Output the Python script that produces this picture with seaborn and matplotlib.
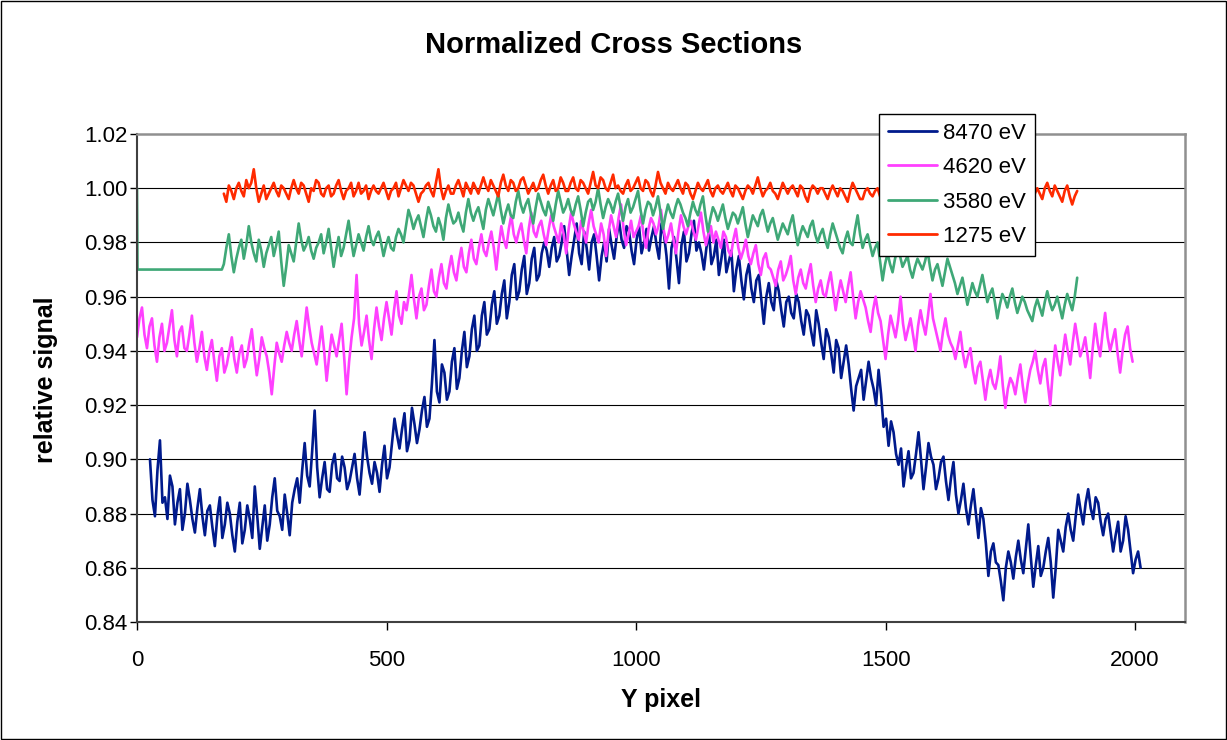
import numpy as np
import pandas as pd
import matplotlib
matplotlib.use("Agg")
import matplotlib.pyplot as plt
import seaborn as sns
from matplotlib.patches import Rectangle

# ---------------- data ----------------
series_names = ["8470 eV", "4620 eV", "3580 eV", "1275 eV"]
series_colors = ["#001a8c", "#ff40ff", "#3fa877", "#ff2a00"]

x_step = 5             # pixel spacing of the read-off samples
x_start_8470 = 26
x_start_4620 = 0
x_start_3580 = 174
x_start_1275 = 174

sig_8470 = [
    0.900, 0.885, 0.879, 0.896, 0.907, 0.884, 0.886, 0.878, 0.894, 0.890, 0.876, 0.884, 0.889, 0.874, 0.880, 0.891, 0.885, 0.878, 0.873, 0.882,
    0.889, 0.879, 0.872, 0.881, 0.883, 0.875, 0.868, 0.879, 0.886, 0.871, 0.876, 0.884, 0.880, 0.872, 0.866, 0.877, 0.884, 0.869, 0.874, 0.883,
    0.878, 0.871, 0.890, 0.879, 0.867, 0.875, 0.883, 0.870, 0.876, 0.886, 0.893, 0.881, 0.879, 0.874, 0.887, 0.880, 0.872, 0.884, 0.889, 0.893,
    0.884, 0.896, 0.906, 0.894, 0.890, 0.903, 0.918, 0.897, 0.886, 0.893, 0.899, 0.889, 0.888, 0.898, 0.902, 0.893, 0.892, 0.901, 0.897, 0.889,
    0.892, 0.897, 0.902, 0.893, 0.887, 0.898, 0.910, 0.901, 0.895, 0.891, 0.899, 0.895, 0.888, 0.898, 0.905, 0.893, 0.897, 0.906, 0.915, 0.909,
    0.904, 0.911, 0.917, 0.903, 0.907, 0.919, 0.913, 0.906, 0.911, 0.918, 0.923, 0.912, 0.915, 0.928, 0.944, 0.925, 0.921, 0.935, 0.932, 0.922,
    0.925, 0.936, 0.941, 0.926, 0.930, 0.940, 0.947, 0.934, 0.938, 0.948, 0.953, 0.940, 0.942, 0.953, 0.958, 0.946, 0.948, 0.957, 0.962, 0.950,
    0.953, 0.961, 0.966, 0.952, 0.958, 0.968, 0.972, 0.959, 0.962, 0.970, 0.975, 0.961, 0.965, 0.974, 0.978, 0.966, 0.968, 0.976, 0.980, 0.977,
    0.971, 0.978, 0.982, 0.973, 0.975, 0.980, 0.986, 0.977, 0.968, 0.975, 0.981, 0.987, 0.976, 0.972, 0.984, 0.978, 0.970, 0.980, 0.983, 0.975,
    0.966, 0.975, 0.980, 0.973, 0.985, 0.979, 0.974, 0.982, 0.988, 0.981, 0.978, 0.986, 0.984, 0.977, 0.972, 0.981, 0.986, 0.976, 0.980, 0.985,
    0.977, 0.982, 0.986, 0.979, 0.974, 0.987, 0.983, 0.975, 0.963, 0.978, 0.982, 0.974, 0.965, 0.979, 0.984, 0.973, 0.976, 0.983, 0.988, 0.977,
    0.980, 0.976, 0.970, 0.978, 0.984, 0.972, 0.975, 0.981, 0.968, 0.974, 0.981, 0.969, 0.973, 0.977, 0.962, 0.970, 0.975, 0.966, 0.959, 0.968,
    0.972, 0.963, 0.958, 0.966, 0.968, 0.959, 0.950, 0.960, 0.965, 0.958, 0.955, 0.966, 0.962, 0.955, 0.949, 0.958, 0.960, 0.954, 0.952, 0.961,
    0.958, 0.951, 0.946, 0.955, 0.953, 0.947, 0.942, 0.955, 0.950, 0.943, 0.937, 0.948, 0.945, 0.939, 0.932, 0.944, 0.941, 0.930, 0.936, 0.942,
    0.935, 0.926, 0.918, 0.927, 0.930, 0.933, 0.922, 0.929, 0.936, 0.930, 0.926, 0.920, 0.933, 0.924, 0.912, 0.915, 0.905, 0.914, 0.910, 0.902,
    0.898, 0.904, 0.890, 0.897, 0.903, 0.893, 0.895, 0.902, 0.910, 0.900, 0.889, 0.897, 0.906, 0.901, 0.898, 0.889, 0.893, 0.899, 0.901, 0.892,
    0.885, 0.893, 0.899, 0.887, 0.880, 0.885, 0.891, 0.882, 0.876, 0.883, 0.889, 0.880, 0.871, 0.882, 0.878, 0.869, 0.857, 0.866, 0.869, 0.862,
    0.861, 0.855, 0.848, 0.860, 0.866, 0.862, 0.856, 0.864, 0.870, 0.863, 0.858, 0.867, 0.876, 0.864, 0.853, 0.861, 0.868, 0.857, 0.860, 0.866,
    0.871, 0.862, 0.849, 0.860, 0.874, 0.870, 0.866, 0.875, 0.880, 0.874, 0.870, 0.879, 0.887, 0.881, 0.876, 0.884, 0.889, 0.882, 0.878, 0.886,
    0.884, 0.877, 0.872, 0.878, 0.880, 0.873, 0.866, 0.872, 0.877, 0.866, 0.870, 0.879, 0.874, 0.866, 0.858, 0.863, 0.866, 0.860,
]

sig_4620 = [
    0.945, 0.952, 0.956, 0.946, 0.941, 0.949, 0.952, 0.942, 0.936, 0.945, 0.950, 0.940, 0.943, 0.949, 0.955, 0.944, 0.938, 0.947, 0.949, 0.941,
    0.940, 0.946, 0.953, 0.943, 0.936, 0.941, 0.947, 0.938, 0.933, 0.940, 0.944, 0.936, 0.929, 0.938, 0.941, 0.932, 0.935, 0.940, 0.945, 0.937,
    0.932, 0.939, 0.942, 0.934, 0.937, 0.943, 0.948, 0.939, 0.931, 0.937, 0.945, 0.941, 0.938, 0.932, 0.924, 0.934, 0.943, 0.939, 0.936, 0.942,
    0.947, 0.943, 0.940, 0.946, 0.951, 0.944, 0.938, 0.947, 0.956, 0.949, 0.943, 0.939, 0.935, 0.942, 0.949, 0.940, 0.929, 0.938, 0.946, 0.942,
    0.938, 0.944, 0.950, 0.938, 0.924, 0.936, 0.945, 0.952, 0.968, 0.950, 0.942, 0.947, 0.953, 0.944, 0.937, 0.948, 0.956, 0.949, 0.944, 0.952,
    0.958, 0.952, 0.946, 0.955, 0.962, 0.953, 0.950, 0.958, 0.955, 0.961, 0.968, 0.959, 0.952, 0.960, 0.963, 0.955, 0.957, 0.964, 0.970, 0.962,
    0.960, 0.967, 0.972, 0.965, 0.963, 0.970, 0.975, 0.969, 0.966, 0.973, 0.978, 0.971, 0.969, 0.976, 0.981, 0.974, 0.972, 0.978, 0.983, 0.977,
    0.975, 0.980, 0.984, 0.978, 0.970, 0.979, 0.986, 0.981, 0.978, 0.985, 0.990, 0.983, 0.980, 0.984, 0.987, 0.981, 0.976, 0.985, 0.991, 0.984,
    0.982, 0.986, 0.988, 0.983, 0.979, 0.985, 0.990, 0.986, 0.983, 0.980, 0.987, 0.983, 0.976, 0.985, 0.991, 0.987, 0.984, 0.981, 0.988, 0.984,
    0.980, 0.987, 0.992, 0.986, 0.983, 0.980, 0.987, 0.983, 0.975, 0.984, 0.990, 0.986, 0.982, 0.989, 0.994, 0.985, 0.979, 0.983, 0.988, 0.982,
    0.984, 0.986, 0.990, 0.983, 0.978, 0.985, 0.989, 0.987, 0.983, 0.986, 0.992, 0.985, 0.980, 0.983, 0.987, 0.981, 0.976, 0.984, 0.990, 0.986,
    0.983, 0.986, 0.988, 0.984, 0.981, 0.986, 0.991, 0.984, 0.979, 0.983, 0.986, 0.980, 0.984, 0.981, 0.978, 0.984, 0.982, 0.977, 0.975, 0.981,
    0.985, 0.978, 0.974, 0.977, 0.981, 0.975, 0.972, 0.976, 0.979, 0.972, 0.968, 0.974, 0.976, 0.971, 0.970, 0.967, 0.964, 0.970, 0.973, 0.966,
    0.968, 0.971, 0.975, 0.966, 0.961, 0.967, 0.970, 0.965, 0.963, 0.968, 0.972, 0.964, 0.958, 0.963, 0.966, 0.961, 0.960, 0.965, 0.969, 0.962,
    0.955, 0.961, 0.966, 0.962, 0.958, 0.964, 0.969, 0.960, 0.952, 0.958, 0.962, 0.959, 0.956, 0.951, 0.947, 0.955, 0.960, 0.954, 0.951, 0.944,
    0.937, 0.946, 0.953, 0.949, 0.945, 0.951, 0.960, 0.950, 0.944, 0.948, 0.952, 0.946, 0.940, 0.949, 0.955, 0.950, 0.946, 0.953, 0.961, 0.952,
    0.948, 0.944, 0.940, 0.947, 0.952, 0.946, 0.943, 0.941, 0.937, 0.942, 0.947, 0.939, 0.934, 0.938, 0.941, 0.933, 0.928, 0.934, 0.936, 0.929,
    0.922, 0.929, 0.933, 0.928, 0.926, 0.931, 0.938, 0.927, 0.919, 0.926, 0.930, 0.928, 0.924, 0.930, 0.935, 0.927, 0.921, 0.928, 0.933, 0.936,
    0.940, 0.933, 0.928, 0.934, 0.937, 0.928, 0.920, 0.932, 0.942, 0.936, 0.931, 0.939, 0.946, 0.940, 0.935, 0.943, 0.950, 0.944, 0.938, 0.941,
    0.945, 0.938, 0.930, 0.941, 0.950, 0.943, 0.938, 0.947, 0.954, 0.945, 0.940, 0.944, 0.948, 0.939, 0.932, 0.940, 0.946, 0.949, 0.941, 0.936,
]

lead_x_3580 = [0, 1, 170]
lead_3580 = [1.00, 0.97, 0.97]
sig_3580 = [
    0.972, 0.978, 0.983, 0.975, 0.969, 0.974, 0.978, 0.981, 0.974, 0.979, 0.986, 0.980, 0.976, 0.973, 0.981, 0.977, 0.971, 0.976, 0.979, 0.982,
    0.975, 0.979, 0.984, 0.973, 0.964, 0.971, 0.979, 0.976, 0.973, 0.980, 0.987, 0.981, 0.977, 0.979, 0.982, 0.977, 0.974, 0.978, 0.980, 0.983,
    0.976, 0.980, 0.985, 0.978, 0.971, 0.977, 0.982, 0.975, 0.978, 0.983, 0.988, 0.981, 0.975, 0.979, 0.983, 0.980, 0.977, 0.982, 0.986, 0.981,
    0.979, 0.982, 0.984, 0.980, 0.975, 0.979, 0.982, 0.978, 0.977, 0.982, 0.985, 0.983, 0.980, 0.986, 0.992, 0.989, 0.985, 0.988, 0.990, 0.986,
    0.982, 0.988, 0.993, 0.990, 0.986, 0.984, 0.989, 0.986, 0.981, 0.989, 0.994, 0.990, 0.987, 0.988, 0.991, 0.987, 0.984, 0.991, 0.996, 0.991,
    0.988, 0.991, 0.993, 0.989, 0.985, 0.992, 0.996, 0.993, 0.990, 0.994, 0.998, 0.992, 0.987, 0.991, 0.994, 0.990, 0.989, 0.995, 0.999, 0.994,
    0.991, 0.994, 0.996, 0.991, 0.987, 0.993, 0.998, 0.995, 0.992, 0.990, 0.995, 0.992, 0.988, 0.994, 0.999, 0.995, 0.991, 0.993, 0.996, 0.992,
    0.990, 0.994, 0.997, 0.992, 0.986, 0.991, 0.995, 0.996, 0.992, 0.995, 1.000, 0.994, 0.989, 0.993, 0.996, 0.994, 0.991, 0.995, 0.998, 0.993,
    0.988, 0.993, 0.996, 0.991, 0.993, 0.996, 0.999, 0.992, 0.987, 0.992, 0.995, 0.994, 0.990, 0.993, 0.997, 0.991, 0.985, 0.990, 0.994, 0.991,
    0.989, 0.993, 0.996, 0.994, 0.991, 0.989, 0.986, 0.991, 0.995, 0.992, 0.990, 0.994, 0.997, 0.990, 0.984, 0.989, 0.993, 0.991, 0.988, 0.991,
    0.994, 0.989, 0.985, 0.988, 0.991, 0.990, 0.987, 0.990, 0.993, 0.987, 0.982, 0.986, 0.990, 0.988, 0.986, 0.990, 0.992, 0.988, 0.984, 0.987,
    0.989, 0.985, 0.981, 0.984, 0.987, 0.985, 0.983, 0.987, 0.990, 0.984, 0.979, 0.983, 0.986, 0.984, 0.982, 0.986, 0.988, 0.983, 0.980, 0.983,
    0.985, 0.981, 0.978, 0.983, 0.987, 0.984, 0.981, 0.978, 0.976, 0.981, 0.984, 0.980, 0.979, 0.985, 0.990, 0.983, 0.978, 0.981, 0.983, 0.979,
    0.975, 0.978, 0.980, 0.973, 0.966, 0.972, 0.976, 0.972, 0.969, 0.974, 0.978, 0.975, 0.971, 0.973, 0.975, 0.970, 0.967, 0.971, 0.974, 0.972,
    0.970, 0.973, 0.977, 0.971, 0.966, 0.970, 0.972, 0.968, 0.964, 0.969, 0.974, 0.971, 0.968, 0.965, 0.961, 0.964, 0.967, 0.962, 0.957, 0.961,
    0.965, 0.962, 0.960, 0.964, 0.968, 0.963, 0.958, 0.961, 0.963, 0.958, 0.952, 0.957, 0.961, 0.959, 0.956, 0.960, 0.963, 0.958, 0.954, 0.957,
    0.960, 0.958, 0.955, 0.953, 0.951, 0.956, 0.959, 0.956, 0.953, 0.958, 0.962, 0.958, 0.955, 0.957, 0.960, 0.956, 0.952, 0.957, 0.961, 0.958,
    0.955, 0.960, 0.967,
]

sig_1275 = [
    0.998, 0.995, 1.001, 0.999, 0.996, 1.000, 1.002, 0.999, 0.997, 1.003, 1.000, 1.002, 1.007, 1.000, 0.995, 0.998, 1.001, 0.996, 0.998, 1.000,
    1.002, 0.999, 0.997, 1.001, 1.000, 0.998, 0.996, 1.000, 1.003, 1.000, 0.998, 1.002, 1.001, 0.998, 0.995, 1.000, 0.999, 1.003, 1.002, 0.998,
    0.997, 1.000, 1.001, 0.997, 0.998, 1.001, 1.003, 0.999, 0.996, 0.999, 1.000, 1.002, 0.997, 0.999, 1.002, 0.998, 0.999, 1.001, 0.996, 0.999,
    1.001, 0.999, 0.998, 1.000, 1.002, 0.999, 0.996, 0.999, 1.000, 1.002, 0.997, 1.000, 1.003, 1.001, 0.999, 1.002, 1.001, 0.998, 0.995, 0.998,
    0.999, 1.001, 1.002, 0.999, 0.997, 1.002, 1.007, 1.000, 0.996, 0.999, 1.001, 0.998, 0.998, 1.001, 1.003, 1.000, 0.997, 1.002, 1.000, 0.998,
    1.002, 1.000, 0.998, 1.001, 1.004, 1.001, 0.999, 1.003, 1.001, 0.999, 0.997, 1.002, 1.005, 1.001, 0.999, 1.003, 1.002, 0.999, 1.000, 1.003,
    1.004, 1.001, 0.998, 1.000, 1.002, 0.999, 1.000, 1.003, 1.005, 1.001, 0.998, 1.001, 1.003, 0.999, 1.000, 1.004, 1.002, 0.999, 0.999, 1.002,
    1.004, 1.000, 0.999, 1.003, 1.002, 1.000, 0.998, 1.002, 1.006, 1.001, 1.000, 1.004, 1.003, 1.000, 0.999, 1.002, 1.005, 1.000, 1.001, 0.999,
    0.998, 1.001, 1.003, 0.999, 1.000, 1.002, 1.004, 1.000, 0.999, 1.003, 1.002, 0.999, 0.997, 1.001, 1.006, 1.002, 1.000, 0.998, 1.002, 1.000,
    0.999, 1.001, 1.003, 1.000, 0.998, 1.002, 1.001, 0.998, 0.996, 0.999, 1.002, 1.000, 0.999, 1.001, 1.003, 0.999, 0.997, 1.000, 1.001, 0.999,
    0.998, 1.000, 1.002, 0.999, 0.997, 1.001, 1.000, 0.998, 0.996, 0.999, 1.001, 1.000, 0.998, 1.001, 1.004, 1.000, 0.997, 0.999, 1.000, 1.002,
    0.999, 0.998, 0.996, 0.999, 1.002, 1.000, 0.998, 1.000, 1.001, 0.999, 0.997, 1.001, 1.000, 0.997, 0.995, 0.999, 1.001, 1.000, 0.998, 1.000,
    1.000, 0.998, 0.996, 0.999, 1.001, 0.999, 0.997, 1.000, 0.999, 0.997, 0.995, 0.999, 1.002, 1.000, 0.998, 0.996, 0.996, 0.999, 1.000, 0.998,
    0.997, 0.999, 1.000, 0.997, 0.995, 0.998, 0.999, 1.000, 0.997, 0.999, 1.001, 0.998, 0.996, 0.998, 0.999, 1.001, 0.998, 1.000, 1.002, 0.999,
    0.996, 0.998, 0.999, 1.000, 0.997, 0.999, 1.001, 0.998, 0.995, 0.997, 0.999, 1.000, 0.998, 1.000, 1.002, 0.999, 0.996, 0.998, 1.000, 0.997,
    0.997, 0.999, 1.001, 0.998, 0.996, 0.998, 0.999, 0.997, 0.995, 0.998, 1.000, 0.998, 0.997, 1.000, 1.002, 0.999, 0.996, 0.998, 0.999, 1.001,
    0.998, 1.000, 1.001, 0.997, 0.995, 0.998, 1.000, 0.998, 0.996, 1.000, 1.002, 0.999, 0.997, 1.001, 0.999, 0.997, 0.995, 0.999, 1.001, 0.997,
    0.994, 0.997, 0.999,
]

y_ticks = [0.84, 0.86, 0.88, 0.90, 0.92, 0.94, 0.96, 0.98, 1.00, 1.02]
x_ticks = [0, 500, 1000, 1500, 2000]
x_limits = (0, 2100)
y_limits = (0.84, 1.02)

title_text = "Normalized Cross Sections"
x_label_text = "Y pixel"
y_label_text = "relative signal"

# ---------------- build long table ----------------
frames = []
def add(name, xs, ys):
    frames.append(pd.DataFrame({"pixel": np.asarray(xs, float),
                                "signal": np.asarray(ys, float),
                                "series": name}))

add(series_names[0], x_start_8470 + x_step * np.arange(len(sig_8470)), sig_8470)
add(series_names[1], x_start_4620 + x_step * np.arange(len(sig_4620)), sig_4620)
add(series_names[2],
    np.concatenate([lead_x_3580, x_start_3580 + x_step * np.arange(len(sig_3580))]),
    lead_3580 + sig_3580)
add(series_names[3], x_start_1275 + x_step * np.arange(len(sig_1275)), sig_1275)
df = pd.concat(frames, ignore_index=True)

# ---------------- figure ----------------
sns.set_style("white")
plt.rcParams["font.family"] = ["Liberation Sans", "DejaVu Sans"]
plt.rcParams["text.color"] = "black"
plt.rcParams["xtick.color"] = "black"
plt.rcParams["ytick.color"] = "black"

fig = plt.figure(figsize=(12.27, 7.40), dpi=100)
ax = fig.add_axes([137 / 1227, 1 - 622 / 740, (1185 - 137) / 1227, (622 - 134) / 740])

palette = dict(zip(series_names, series_colors))
sns.lineplot(data=df, x="pixel", y="signal", hue="series", hue_order=series_names,
             palette=palette, estimator=None, sort=False, linewidth=1.9, ax=ax)

ax.set_xlim(*x_limits)
ax.set_ylim(*y_limits)
ax.set_xticks(x_ticks)
ax.set_yticks(y_ticks)
ax.set_xticklabels([str(v) for v in x_ticks])
ax.set_yticklabels([f"{v:.2f}" for v in y_ticks])
ax.tick_params(axis="both", labelsize=16, colors="black")
ax.tick_params(axis="y", direction="out", length=5, width=1, pad=2, left=True)
ax.tick_params(axis="x", direction="out", length=6, width=1, pad=14, bottom=True)
ax.set_xlabel("")
ax.set_ylabel("")

for v in y_ticks[1:-1]:
    ax.axhline(v, color="black", lw=0.8, zorder=0.5)

for side in ["left", "bottom"]:
    ax.spines[side].set_color("#404040")
    ax.spines[side].set_linewidth(1.5)
for side in ["top", "right"]:
    ax.spines[side].set_color("#909090")
    ax.spines[side].set_linewidth(1.8)

handles, labels = ax.get_legend_handles_labels()
if ax.get_legend() is not None:
    ax.get_legend().remove()
leg = fig.legend(handles, labels, loc="upper left",
                 bbox_to_anchor=(879 / 1227, 1 - 114 / 740),
                 bbox_transform=fig.transFigure,
                 frameon=True, fancybox=False, framealpha=1, edgecolor="black",
                 fontsize=16, handlelength=2.2, handletextpad=0.3,
                 labelspacing=0.6, borderpad=0.4, borderaxespad=0)
leg.get_frame().set_linewidth(1.0)
for ln in leg.get_lines():
    ln.set_linewidth(2.0)

fig.text(0.5, 1 - 45 / 740, title_text, ha="center", va="center",
         fontsize=21, fontweight="bold", color="black")
fig.text(661 / 1227, 1 - 700 / 740, x_label_text, ha="center", va="center",
         fontsize=18, fontweight="bold", color="black")
fig.text(46 / 1227, 1 - 380 / 740, y_label_text, ha="center", va="center",
         rotation=90, fontsize=18, fontweight="bold", color="black")

fig.patches.append(Rectangle((0.0006, 0.001), 0.9986, 0.998, transform=fig.transFigure,
                             fill=False, edgecolor="black", linewidth=1.0))

fig.savefig("out.png", dpi=100)
